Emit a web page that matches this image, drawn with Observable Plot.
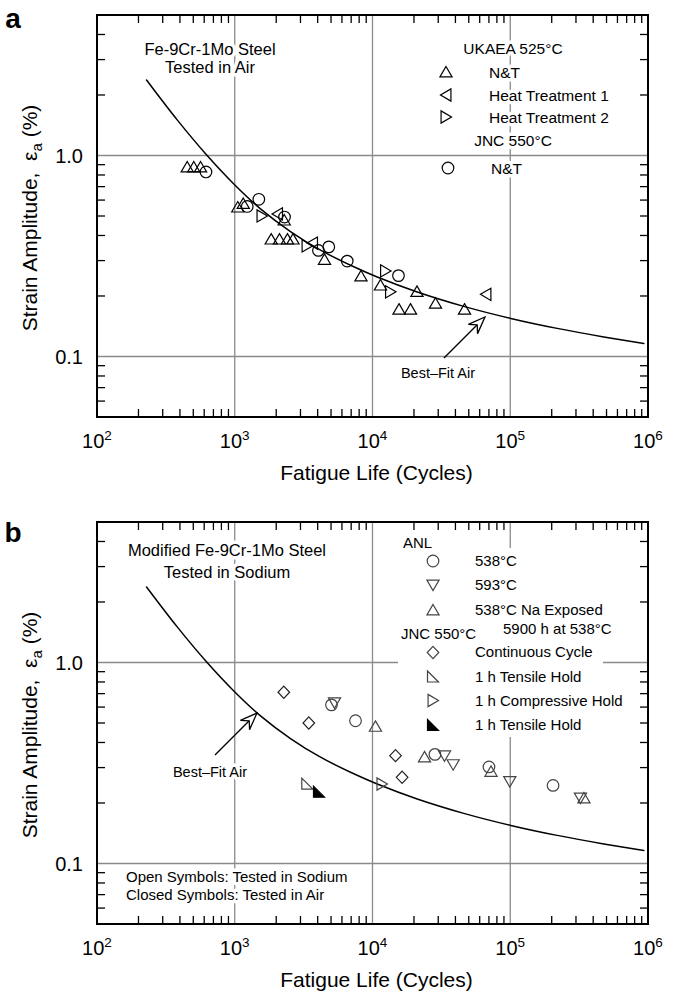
<!DOCTYPE html>
<html><head><meta charset="utf-8">
<script src="https://cdn.jsdelivr.net/npm/d3@7"></script>
<script src="https://cdn.jsdelivr.net/npm/@observablehq/plot@0.6"></script>
<style>
html,body{margin:0;padding:0;background:#fff;overflow:hidden}
#chart svg{display:block}
</style></head><body><div id="chart"></div>
<script>
// ===================== DATA =====================
const xDecades = [1e2, 1e3, 1e4, 1e5, 1e6];
const xExponents = ["2", "3", "4", "5", "6"];
const yLabeled = [0.1, 1.0];
const yLabels = ["0.1", "1.0"];

// Best-fit air curve
const fitN = [227, 379, 618, 976, 1525, 2518, 4159, 7255, 10730, 20940, 45620, 100000, 217400, 473700, 925000];
const fitE = [2.388, 1.512, 1.014, 0.726, 0.546, 0.421, 0.340, 0.281, 0.250, 0.2106, 0.1786, 0.1556, 0.1388, 0.1259, 0.1168];

// Panel a — UKAEA 525°C N&T (up triangles)
const aNT_N = [448, 500, 560, 1043, 1143, 2267, 1824, 2094, 2393, 2625, 4446, 8180, 11330, 20850, 15450, 18720, 28430, 46170];
const aNT_E = [0.882, 0.882, 0.882, 0.557, 0.580, 0.480, 0.386, 0.386, 0.386, 0.386, 0.306, 0.253, 0.228, 0.212, 0.173, 0.173, 0.185, 0.173];
// Panel a — UKAEA Heat Treatment 1 (left triangles)
const aHT1_N = [2028, 3640, 66070];
const aHT1_E = [0.515, 0.369, 0.205];
// Panel a — UKAEA Heat Treatment 2 (right triangles)
const aHT2_N = [1563, 3319, 12330, 13400];
const aHT2_E = [0.503, 0.357, 0.268, 0.211];
// Panel a — JNC 550°C N&T (circles)
const aJNC_N = [613, 1222, 1483, 2278, 4018, 4775, 6500, 15310];
const aJNC_E = [0.833, 0.561, 0.609, 0.497, 0.339, 0.353, 0.300, 0.254];

// Panel b — ANL 538°C (circles)
const b538_N = [4995, 7465, 28170, 69490, 202800];
const b538_E = [0.619, 0.516, 0.351, 0.304, 0.246];
// Panel b — ANL 593°C (down triangles)
const b593_N = [5254, 33040, 38190, 98400, 320600];
const b593_E = [0.634, 0.345, 0.312, 0.257, 0.213];
// Panel b — ANL 538°C Na exposed (up triangles)
const bNa_N = [10420, 23660, 71900, 340000];
const bNa_E = [0.484, 0.341, 0.289, 0.213];
// Panel b — JNC continuous cycle (diamonds)
const bCC_N = [2252, 3420, 14570, 16270];
const bCC_E = [0.715, 0.503, 0.346, 0.270];
// Panel b — JNC 1 h tensile hold, sodium (open right-angle triangle)
const bTH_N = [3335];
const bTH_E = [0.251];
// Panel b — JNC 1 h compressive hold (right triangles)
const bCH_N = [11610];
const bCH_E = [0.250];
// Panel b — JNC 1 h tensile hold, air (filled right-angle triangle)
const bTHair_N = [4055];
const bTHair_E = [0.229];

// Text
const legendA = ["UKAEA 525°C", "N&T", "Heat Treatment 1", "Heat Treatment 2", "JNC 550°C", "N&T"];
const legendB = ["ANL", "538°C", "593°C", "538°C Na Exposed", "5900 h at 538°C", "JNC 550°C",
  "Continuous Cycle", "1 h Tensile Hold", "1 h Compressive Hold", "1 h Tensile Hold"];

// ===================== HELPERS =====================
const FONT = '"Liberation Sans", Arial, Helvetica, sans-serif';
const rows = (N, E) => N.map((n, i) => ({N: n, e: E[i]}));

function poly(pts) {
  return {draw(ctx, size) {
    const r = Math.sqrt(size / Math.PI);
    ctx.moveTo(pts[0][0] * r, pts[0][1] * r);
    for (let i = 1; i < pts.length; ++i) ctx.lineTo(pts[i][0] * r, pts[i][1] * r);
    ctx.closePath();
  }};
}
const symUp = poly([[0, -0.95], [1.05, 0.85], [-1.05, 0.85]]);
const symDown = poly([[-1.05, -0.85], [1.05, -0.85], [0, 0.95]]);
const symLeft = poly([[0.85, -1.05], [0.85, 1.05], [-0.95, 0]]);
const symRight = poly([[-0.85, -1.05], [-0.85, 1.05], [0.95, 0]]);
const symDiamond = poly([[0, -1.05], [1.0, 0], [0, 1.05], [-1.0, 0]]);
const symCorner = poly([[-0.95, -0.95], [-0.95, 0.95], [0.95, 0.95]]);
const R = 5.8;

function frameBox(dim) {
  return {L: dim.marginLeft, R: dim.width - dim.marginRight, T: dim.marginTop, B: dim.height - dim.marginBottom};
}
function text(g, s, x, y, o = {}) {
  const t = g.append("text").attr("x", x).attr("y", y).attr("dy", "0.36em")
    .attr("font-size", o.size || 15).attr("text-anchor", o.anchor || "start").attr("fill", "#000");
  if (o.weight) t.attr("font-weight", o.weight);
  if (o.halo !== 0) t.attr("stroke", "#fff").attr("stroke-width", o.halo || 7)
    .attr("stroke-linejoin", "round").attr("paint-order", "stroke");
  t.text(s);
  return t;
}
function sym(g, type, x, y, o = {}) {
  g.append("path").attr("d", d3.symbol(type, R * R * Math.PI)())
    .attr("transform", `translate(${x},${y})`)
    .attr("fill", o.fill || "none").attr("stroke", o.stroke || "#000").attr("stroke-width", 1.2);
}
function arrow(g, x0, y0, x1, y1) {
  const dx = x1 - x0, dy = y1 - y0, len = Math.hypot(dx, dy);
  const ux = dx / len, uy = dy / len, px = -uy, py = ux;
  const hl = 17, hw = 6.5, notch = 6;
  const bx = x1 - ux * hl, by = y1 - uy * hl;
  const nx = x1 - ux * (hl - notch), ny = y1 - uy * (hl - notch);
  g.append("line").attr("x1", x0).attr("y1", y0).attr("x2", nx).attr("y2", ny)
    .attr("stroke", "#000").attr("stroke-width", 1.3);
  g.append("path").attr("d", `M${x1},${y1}L${bx + px * hw},${by + py * hw}L${nx},${ny}L${bx - px * hw},${by - py * hw}Z`)
    .attr("fill", "#fff").attr("stroke", "#000").attr("stroke-width", 1.3).attr("stroke-linejoin", "miter");
}

const gridMark = (index, scales, values, dim) => {
  const {x, y} = scales;
  const {L, R: Rr, T, B} = frameBox(dim);
  const g = d3.create("svg:g").attr("stroke", "#8a8a8a").attr("stroke-width", 1.3);
  xDecades.slice(1, -1).forEach(v => g.append("line").attr("x1", x(v)).attr("x2", x(v)).attr("y1", T).attr("y2", B));
  yLabeled.forEach(v => g.append("line").attr("x1", L).attr("x2", Rr).attr("y1", y(v)).attr("y2", y(v)));
  return g.node();
};

const frameMark = (letter) => (index, scales, values, dim) => {
  const {x, y} = scales;
  const {L, R: Rr, T, B} = frameBox(dim);
  const g = d3.create("svg:g");
  const tk = g.append("g").attr("stroke", "#000").attr("stroke-width", 1.3);
  const tl = 8;
  const xMinor = d3.scaleLog().domain([1e2, 1e6]).ticks().filter(v => !xDecades.includes(v));
  xMinor.forEach(v => {
    const p = x(v);
    tk.append("line").attr("x1", p).attr("x2", p).attr("y1", B).attr("y2", B - tl);
    tk.append("line").attr("x1", p).attr("x2", p).attr("y1", T).attr("y2", T + tl);
  });
  const yMinor = d3.scaleLog().domain([0.05, 5]).ticks()
    .filter(v => Math.abs(Math.log10(v) - Math.round(Math.log10(v))) > 1e-6 && v > 0.0501 && v < 4.99);
  yMinor.forEach(v => {
    const p = y(v);
    tk.append("line").attr("x1", L).attr("x2", L + tl).attr("y1", p).attr("y2", p);
    tk.append("line").attr("x1", Rr).attr("x2", Rr - tl).attr("y1", p).attr("y2", p);
  });
  g.append("rect").attr("x", L).attr("y", T).attr("width", Rr - L).attr("height", B - T)
    .attr("fill", "none").attr("stroke", "#000").attr("stroke-width", 2);
  const lab = g.append("g").attr("fill", "#000");
  xDecades.forEach((v, i) => {
    const t = lab.append("text").attr("x", x(v)).attr("y", B + 31).attr("text-anchor", "middle").attr("font-size", 20);
    t.append("tspan").text("10");
    t.append("tspan").attr("dy", -8).attr("font-size", 13.5).text(xExponents[i]);
  });
  yLabeled.forEach((v, i) => {
    lab.append("text").attr("x", L - 14).attr("y", y(v)).attr("dy", "0.36em").attr("text-anchor", "end")
      .attr("font-size", 20).text(yLabels[i]);
  });
  lab.append("text").attr("x", (L + Rr) / 2 + 4).attr("y", B + 63).attr("text-anchor", "middle")
    .attr("font-size", 21).text("Fatigue Life (Cycles)");
  const yt = lab.append("text").attr("transform", `translate(37,${(T + B) / 2 + 2}) rotate(-90)`)
    .attr("text-anchor", "middle").attr("font-size", 21);
  yt.append("tspan").text("Strain Amplitude,\u00a0\u00a0ε");
  yt.append("tspan").attr("font-size", 15).attr("dy", 5).text("a");
  yt.append("tspan").attr("dy", -5).text("\u00a0(%)");
  lab.append("text").attr("x", 13).attr("y", T - 15 + 28 + (letter === "b" ? 7 : 0)).attr("font-size", 28)
    .attr("font-weight", "bold").text(letter);
  return g.node();
};

const annotA = (index, scales, values, dim) => {
  const g = d3.create("svg:g");
  text(g, "Fe-9Cr-1Mo Steel", 210, 49, {size: 16.5, anchor: "middle"});
  text(g, "Tested in Air", 210, 67, {size: 16.5, anchor: "middle"});
  text(g, legendA[0], 513, 48, {size: 15.5, anchor: "middle"});
  const sx = 446, tx = 489, ys = [72, 95, 117];
  [symUp, symLeft, symRight].forEach((s, i) => { sym(g, s, sx, ys[i]); text(g, legendA[i + 1], tx, ys[i], {size: 15.5}); });
  text(g, legendA[4], 513, 140, {size: 15.5, anchor: "middle"});
  sym(g, d3.symbolCircle, sx + 2, 168);
  text(g, legendA[5], tx + 2, 168, {size: 15.5});
  text(g, "Best\u2013Fit Air", 438, 373, {size: 14.5, anchor: "middle"});
  arrow(g, 444, 358, 485, 317);
  return g.node();
};

const annotB = (index, scales, values, dim) => {
  const g = d3.create("svg:g");
  g.append("rect").attr("x", 398).attr("y", 58).attr("width", 205).attr("height", 189).attr("fill", "#fff");
  text(g, "Modified Fe-9Cr-1Mo Steel", 227, 60, {size: 16.5, anchor: "middle"});
  text(g, "Tested in Sodium", 227, 82, {size: 16.5, anchor: "middle"});
  const sx = 433, tx = 475, col = "#444";
  text(g, legendB[0], 403, 53, {size: 15});
  sym(g, d3.symbolCircle, sx, 71, {stroke: col}); text(g, legendB[1], tx, 71, {size: 15});
  sym(g, symDown, sx, 95, {stroke: col}); text(g, legendB[2], tx, 95, {size: 15});
  sym(g, symUp, sx, 120, {stroke: col}); text(g, legendB[3], tx, 119.5, {size: 15});
  text(g, legendB[4], 503, 138.5, {size: 15});
  text(g, legendB[5], 401, 143.5, {size: 15});
  sym(g, symDiamond, sx, 162.5, {stroke: col}); text(g, legendB[6], tx, 162, {size: 15});
  sym(g, symCorner, sx, 186.5, {stroke: col}); text(g, legendB[7], tx, 186.5, {size: 15});
  sym(g, symRight, sx, 210.5, {stroke: col}); text(g, legendB[8], tx, 210.5, {size: 15});
  sym(g, symCorner, sx, 235, {stroke: "#000", fill: "#000"}); text(g, legendB[9], tx, 235, {size: 15});
  text(g, "Best\u2013Fit Air", 210, 282, {size: 14.5, anchor: "middle"});
  arrow(g, 215, 265, 257, 223);
  text(g, "Open Symbols: Tested in Sodium", 126, 387, {size: 15});
  text(g, "Closed Symbols: Tested in Air", 126, 405, {size: 15});
  return g.node();
};

const common = {
  width: 679,
  marginLeft: 97, marginRight: 31,
  x: {type: "log", domain: [1e2, 1e6], axis: null},
  y: {type: "log", domain: [0.05, 5], axis: null},
  style: {fontFamily: FONT, background: "#fff", color: "#000", overflow: "visible"}
};
const fit = rows(fitN, fitE);
const dotOpts = (s, stroke = "#000", fill = "none") => ({x: "N", y: "e", symbol: s, r: R, stroke, fill, strokeWidth: 1.2});

const plotA = Plot.plot({
  ...common, height: 490, marginTop: 15, marginBottom: 73,
  marks: [
    gridMark,
    annotA,
    Plot.line(fit, {x: "N", y: "e", curve: "catmull-rom", stroke: "#000", strokeWidth: 1.5}),
    Plot.dot(rows(aNT_N, aNT_E), dotOpts(symUp)),
    Plot.dot(rows(aHT1_N, aHT1_E), dotOpts(symLeft)),
    Plot.dot(rows(aHT2_N, aHT2_E), dotOpts(symRight)),
    Plot.dot(rows(aJNC_N, aJNC_E), dotOpts("circle")),
    frameMark("a")
  ]
});

const g2 = "#444";
const plotB = Plot.plot({
  ...common, height: 503, marginTop: 32, marginBottom: 69,
  marks: [
    gridMark,
    annotB,
    Plot.line(fit, {x: "N", y: "e", curve: "catmull-rom", stroke: "#000", strokeWidth: 1.5}),
    Plot.dot(rows(b538_N, b538_E), dotOpts("circle", g2)),
    Plot.dot(rows(b593_N, b593_E), dotOpts(symDown, g2)),
    Plot.dot(rows(bNa_N, bNa_E), dotOpts(symUp, g2)),
    Plot.dot(rows(bCC_N, bCC_E), dotOpts(symDiamond, "#222")),
    Plot.dot(rows(bTH_N, bTH_E), dotOpts(symCorner, g2)),
    Plot.dot(rows(bCH_N, bCH_E), dotOpts(symRight, g2)),
    Plot.dot(rows(bTHair_N, bTHair_E), dotOpts(symCorner, "#000", "#000")),
    frameMark("b")
  ]
});

document.getElementById("chart").append(plotA, plotB);
</script>
</body></html>
